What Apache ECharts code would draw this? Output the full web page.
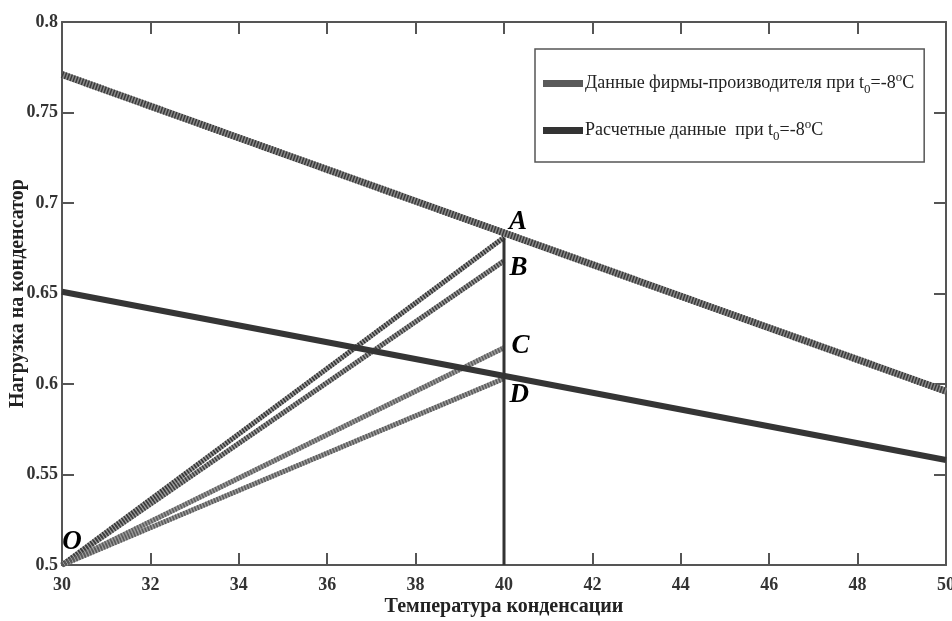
<!DOCTYPE html>
<html>
<head>
<meta charset="utf-8">
<script src="https://cdn.jsdelivr.net/npm/echarts@6/dist/echarts.min.js"></script>
<style>
  html, body { margin: 0; padding: 0; background: #fff; }
  #chart { width: 952px; height: 621px; }
</style>
</head>
<body>
<div id="chart"></div>
<script>
// данные
const xEnds = [30, 50];
const makerLoad = [0.771, 0.596];   // данные фирмы-производителя
const calcLoad = [0.651, 0.558];    // расчетные данные
const origin = [30, 0.5];
const pointX = 40;
const pointNames = ['A', 'B', 'C', 'D'];
const pointLoads = [0.681, 0.668, 0.620, 0.603];
const rayColors = ['#333', '#3e3e3e', '#5e5e5e', '#595959'];

const makerName = 'Данные фирмы-производителя при t{sub|0}=-8{sup|o}C';
const calcName = 'Расчетные данные  при t{sub|0}=-8{sup|o}C';

const font = 'Liberation Serif';
let chart = echarts.init(document.getElementById('chart'));

const pair = (xs, ys) => xs.map((x, i) => [x, ys[i]]);

// подписи точек O, A, B, C, D
const labelPos = {
  A: { position: 'top', offset: [14, 4] },
  B: { position: 'right', offset: [0, 7] },
  C: { position: 'right', offset: [2, -2] },
  D: { position: 'right', offset: [0, 16] }
};
const letter = {
  show: true, color: '#000', opacity: 1,
  fontFamily: font, fontStyle: 'italic', fontWeight: 'bold', fontSize: 27
};
let rays = [];
let letterPts = [{ value: origin, label: Object.assign({ formatter: 'O', position: 'top', offset: [10, -4] }, letter) }];
pointNames.forEach((nm, i) => {
  letterPts.push({
    value: [pointX, pointLoads[i]],
    label: Object.assign({ formatter: nm }, letter, labelPos[nm])
  });
  // лучи из O: серая подложка + штриховка
  rays.push({
    name: 'ray' + nm, type: 'line', symbol: 'none', z: 3,
    data: [origin, [pointX, pointLoads[i]]],
    lineStyle: { color: '#9a9a9a', width: 5 }
  });
  rays.push({
    name: 'rayh' + nm, type: 'line', symbol: 'none', z: 4,
    data: [origin, [pointX, pointLoads[i]]],
    lineStyle: { color: rayColors[i], width: 5, type: [1.5, 1.5] }
  });
});

chart.setOption({
  animation: false,
  grid: { left: 62, right: 6, top: 22, bottom: 56, outerBoundsMode: 'none' },
  legend: {
    data: [makerName, calcName],
    orient: 'vertical',
    left: 535, top: 49,
    padding: [22, 10, 19, 8],
    itemGap: 22,
    itemWidth: 40, itemHeight: 7,
    icon: 'rect',
    borderColor: '#555', borderWidth: 1.5,
    backgroundColor: '#fff',
    textStyle: {
      fontFamily: font, fontSize: 18, color: '#222', padding: [0, 0, 0, -3],
      rich: {
        sub: { fontFamily: font, fontSize: 13, verticalAlign: 'bottom', padding: [12, 0, 0, 0], color: '#222' },
        sup: { fontFamily: font, fontSize: 13, verticalAlign: 'top', padding: [0, 0, 10, 0], color: '#222' }
      }
    }
  },
  xAxis: [{
    type: 'value', min: 30, max: 50, interval: 2,
    name: 'Температура конденсации', nameLocation: 'middle', nameGap: 32, nameMoveOverlap: false,
    nameTextStyle: { fontFamily: font, fontWeight: 'bold', fontSize: 20, color: '#222' },
    axisLine: { lineStyle: { color: '#555', width: 2 } },
    axisTick: { inside: true, length: 12, lineStyle: { color: '#555', width: 2 } },
    axisLabel: { fontFamily: font, fontWeight: 'bold', fontSize: 18, color: '#333', margin: 11 },
    splitLine: { show: false }
  }, {
    type: 'value', position: 'top', min: 30, max: 50, interval: 2,
    axisLine: { show: true, lineStyle: { color: '#555', width: 2 } },
    axisTick: { inside: true, length: 12, lineStyle: { color: '#555', width: 2 } },
    axisLabel: { show: false },
    splitLine: { show: false }
  }],
  yAxis: [{
    type: 'value', min: 0.5, max: 0.8, interval: 0.05,
    name: 'Нагрузка на конденсатор', nameLocation: 'middle', nameGap: 34, nameMoveOverlap: false,
    nameTextStyle: { fontFamily: font, fontWeight: 'bold', fontSize: 20, color: '#222' },
    axisLine: { show: true, lineStyle: { color: '#555', width: 2 } },
    axisTick: { show: true, inside: true, length: 12, lineStyle: { color: '#555', width: 2 } },
    axisLabel: { fontFamily: font, fontWeight: 'bold', fontSize: 18, color: '#333', margin: 4 },
    splitLine: { show: false }
  }, {
    type: 'value', position: 'right', min: 0.5, max: 0.8, interval: 0.05,
    axisLine: { show: true, lineStyle: { color: '#555', width: 2 } },
    axisTick: { show: true, inside: true, length: 12, lineStyle: { color: '#555', width: 2 } },
    axisLabel: { show: false },
    splitLine: { show: false }
  }],
  series: [
    {
      name: makerName, type: 'line', symbol: 'none', z: 3,
      data: pair(xEnds, makerLoad),
      itemStyle: { color: '#5a5a5a' },
      lineStyle: { color: '#8a8a8a', width: 7 }
    },
    {
      name: 'makerHatch', type: 'line', symbol: 'none', z: 4,
      data: pair(xEnds, makerLoad),
      lineStyle: { color: '#3a3a3a', width: 7, type: [1.5, 1.5] }
    },
    {
      name: calcName, type: 'line', symbol: 'none', z: 5,
      data: pair(xEnds, calcLoad),
      itemStyle: { color: '#333' },
      lineStyle: { color: '#353535', width: 6 }
    },
    {
      name: 'vertical', type: 'line', symbol: 'none', z: 6,
      data: [[pointX, 0.5], [pointX, pointLoads[0]]],
      lineStyle: { color: '#333', width: 3 }
    },
    {
      name: 'letters', type: 'scatter', symbol: 'circle', symbolSize: 1, z: 10,
      itemStyle: { color: '#fff', opacity: 0 },
      data: letterPts
    }
  ].concat(rays)
});
</script>
</body>
</html>
